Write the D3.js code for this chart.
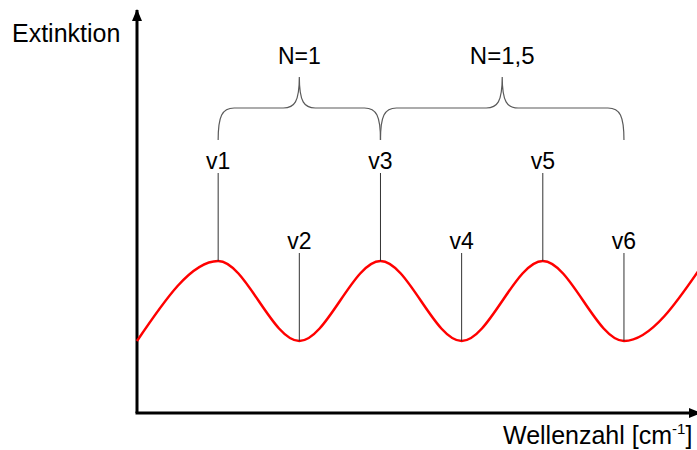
<!DOCTYPE html>
<html>
<head>
<meta charset="utf-8">
<script src="https://cdn.jsdelivr.net/npm/d3@7"></script>
<style>
  html, body { margin: 0; padding: 0; background: #fff; }
  svg { display: block; font-family: "Liberation Sans", Arial, sans-serif; }
</style>
</head>
<body>
<svg id="chart" width="697" height="450"></svg>
<script>
// Schematic absorption spectrum: alternating maxima and minima
const positions = [0, 1, 2, 3, 4, 5, 6, 7];
const extinction = [0.9, 1.9, 0.9, 1.9, 0.9, 1.9, 0.9, 1.9];

// Marked band positions (index into the series above)
const bandLabels = ["v1", "v2", "v3", "v4", "v5", "v6"];
const bandIndex = [1, 2, 3, 4, 5, 6];

// Brackets spanning groups of bands
const groupLabels = ["N=1", "N=1,5"];
const groupFrom = [1, 3];
const groupTo = [3, 6];

const axisLabels = ["Extinktion", "Wellenzahl [cm", "-1", "]"];

const W = 697, H = 450;
const svg = d3.select("#chart");

const x = d3.scaleLinear().domain([0, 6.9]).range([137, 697]);
const y = d3.scaleLinear().domain([0, 5]).range([413, 13]);

// Arrow heads
const defs = svg.append("defs");
defs.append("marker")
  .attr("id", "arrow")
  .attr("viewBox", "0 0 12 10")
  .attr("refX", 11).attr("refY", 5)
  .attr("markerWidth", 12).attr("markerHeight", 10)
  .attr("markerUnits", "userSpaceOnUse")
  .attr("orient", "auto")
  .append("path")
  .attr("d", "M0,0 L12,5 L0,10 Z")
  .attr("fill", "#000");

// Axes
svg.append("line")
  .attr("x1", x(0)).attr("y1", y(0))
  .attr("x2", x(0)).attr("y2", 10)
  .attr("stroke", "#000").attr("stroke-width", 3)
  .attr("marker-end", "url(#arrow)");
svg.append("line")
  .attr("x1", x(0) - 1.5).attr("y1", y(0))
  .attr("x2", 700).attr("y2", y(0))
  .attr("stroke", "#000").attr("stroke-width", 3)
  .attr("marker-end", "url(#arrow)");

// Curve
const pts = positions.map((p, i) => [p, extinction[i]]);
const line = d3.line().x(d => x(d[0])).y(d => y(d[1])).curve(d3.curveMonotoneX);
svg.append("path")
  .datum(pts)
  .attr("d", line)
  .attr("fill", "none")
  .attr("stroke", "#ff0000")
  .attr("stroke-width", 2.5);

// Band markers
const labelGap = 92;
bandLabels.forEach((lab, i) => {
  const k = bandIndex[i];
  const px = x(positions[k]);
  const py = y(extinction[k]);
  svg.append("line")
    .attr("x1", px).attr("x2", px)
    .attr("y1", py).attr("y2", py - labelGap + 4)
    .attr("stroke", "#333").attr("stroke-width", 1);
  svg.append("text")
    .attr("x", px).attr("y", py - labelGap)
    .attr("text-anchor", "middle")
    .attr("font-size", 23)
    .attr("fill", "#000")
    .text(lab);
});

// Curly brackets
const braceBase = 140, braceBar = 108, braceTip = 77;
function bracePath(x0, x1) {
  const m = (x0 + x1) / 2;
  return [
    `M${x0},${braceBase}`,
    `C${x0},${braceBar + 8} ${x0 + 4},${braceBar} ${x0 + 16},${braceBar}`,
    `L${m - 16},${braceBar}`,
    `C${m - 5},${braceBar} ${m},${braceBar - 6} ${m},${braceTip}`,
    `C${m},${braceBar - 6} ${m + 5},${braceBar} ${m + 16},${braceBar}`,
    `L${x1 - 16},${braceBar}`,
    `C${x1 - 4},${braceBar} ${x1},${braceBar + 8} ${x1},${braceBase}`
  ].join(" ");
}
groupLabels.forEach((lab, i) => {
  const x0 = x(positions[groupFrom[i]]);
  const x1 = x(positions[groupTo[i]]);
  svg.append("path")
    .attr("d", bracePath(x0, x1))
    .attr("fill", "none")
    .attr("stroke", "#5a5a5a")
    .attr("stroke-width", 1.2);
  svg.append("text")
    .attr("x", (x0 + x1) / 2).attr("y", 64)
    .attr("text-anchor", "middle")
    .attr("font-size", i === 0 ? 23 : 24)
    .attr("fill", "#000")
    .text(lab);
});

// Axis titles
svg.append("text")
  .attr("x", 12).attr("y", 42)
  .attr("font-size", 25)
  .attr("fill", "#000")
  .text(axisLabels[0]);

const xt = svg.append("text")
  .attr("x", 503).attr("y", 444)
  .attr("font-size", 25)
  .attr("fill", "#000");
xt.append("tspan").text(axisLabels[1]);
xt.append("tspan").attr("font-size", 15).attr("dy", -10).text(axisLabels[2]);
xt.append("tspan").attr("dy", 10).text(axisLabels[3]);
</script>
</body>
</html>
